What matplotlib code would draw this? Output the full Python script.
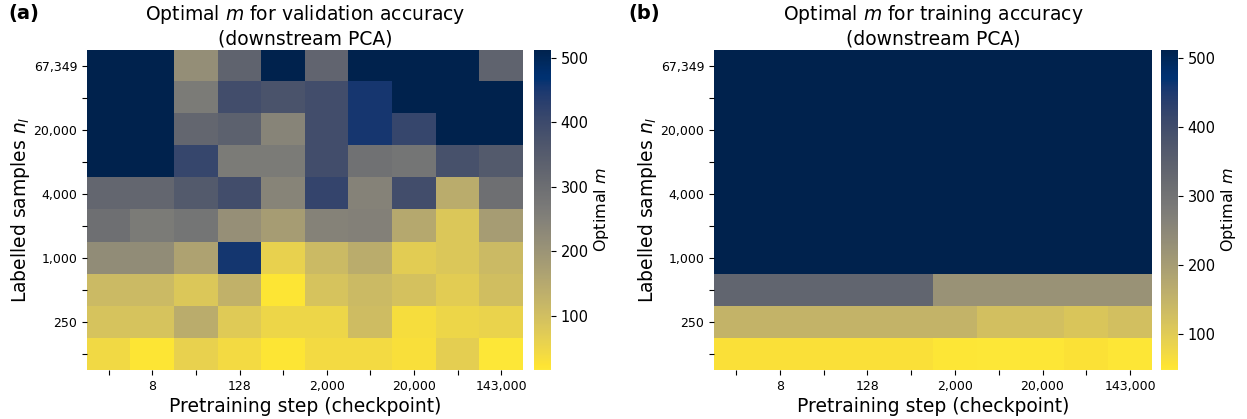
import numpy as np
import matplotlib
matplotlib.use("Agg")
import matplotlib.pyplot as plt

# tick labels (every cell has a tick, only some are labelled)
step_labels = ["", "8", "", "128", "", "2,000", "", "20,000", "", "143,000"]
sample_labels = ["67,349", "", "20,000", "", "4,000", "", "1,000", "", "250", ""]

# optimal m, validation accuracy (rows = labelled samples, top to bottom)
m_val = np.array([
    [512, 512, 215, 328, 512, 325, 512, 512, 512, 328],
    [512, 512, 264, 388, 373, 388, 452, 512, 512, 512],
    [512, 512, 320, 335, 240, 388, 452, 410, 512, 512],
    [512, 512, 410, 264, 264, 388, 290, 280, 380, 355],
    [320, 320, 355, 388, 240, 415, 245, 388, 140, 295],
    [295, 264, 280, 210, 180, 245, 250, 150, 80, 180],
    [220, 220, 165, 455, 60, 110, 140, 70, 80, 110],
    [110, 110, 80, 130, 20, 90, 110, 95, 70, 100],
    [90, 90, 140, 75, 50, 50, 105, 35, 50, 55],
    [45, 20, 60, 40, 20, 40, 40, 30, 65, 16],
])

# optimal m, training accuracy
m_train = np.array([
    [512] * 10,
    [512] * 10,
    [512] * 10,
    [512] * 10,
    [512] * 10,
    [512] * 10,
    [512] * 10,
    [336, 336, 336, 336, 336, 224, 224, 224, 224, 224],
    [150, 150, 150, 150, 150, 150, 125, 125, 113, 125],
    [60, 60, 60, 60, 60, 50, 48, 50, 58, 50],
])

W, H = 1247, 419
fig = plt.figure(figsize=(W / 100, H / 100), dpi=100)


def px(x0, y0, x1, y1):
    return [x0 / W, (H - y1) / H, (x1 - x0) / W, (y1 - y0) / H]


def draw_panel(ax, cax, data, vmin, title):
    im = ax.imshow(data, cmap="cividis_r", vmin=vmin, vmax=512,
                   aspect="auto", interpolation="nearest")
    for s in ax.spines.values():
        s.set_visible(False)
    ax.set_xticks(np.arange(data.shape[1]))
    ax.set_xticklabels(step_labels, fontsize=9)
    ax.set_yticks(np.arange(data.shape[0]))
    ax.set_yticklabels(sample_labels, fontsize=9)
    ax.set_xlabel("Pretraining step (checkpoint)", fontsize=13.5, labelpad=3)
    ax.set_ylabel("Labelled samples $n_l$", fontsize=13.5, labelpad=1)
    ax.set_title(title, fontsize=13.5, pad=4)
    cb = fig.colorbar(im, cax=cax, ticks=[100, 200, 300, 400, 500])
    cb.outline.set_visible(False)
    cb.ax.tick_params(labelsize=10.5)
    cb.set_label("Optimal $m$", fontsize=11.5, labelpad=2)
    return cb


ax1 = fig.add_axes(px(87, 50, 523, 370))
cax1 = fig.add_axes(px(534, 50, 551, 370))
ax2 = fig.add_axes(px(714, 50, 1152, 370))
cax2 = fig.add_axes(px(1161, 50, 1178, 370))

draw_panel(ax1, cax1, m_val, 16,
           "Optimal $m$ for validation accuracy\n(downstream PCA)")
draw_panel(ax2, cax2, m_train, 48,
           "Optimal $m$ for training accuracy\n(downstream PCA)")

fig.text(8 / W, 1 - 14 / H, "(a)", fontsize=14, fontweight="bold", va="center")
fig.text(628 / W, 1 - 14 / H, "(b)", fontsize=14, fontweight="bold", va="center")

fig.savefig("out.png", dpi=100)
